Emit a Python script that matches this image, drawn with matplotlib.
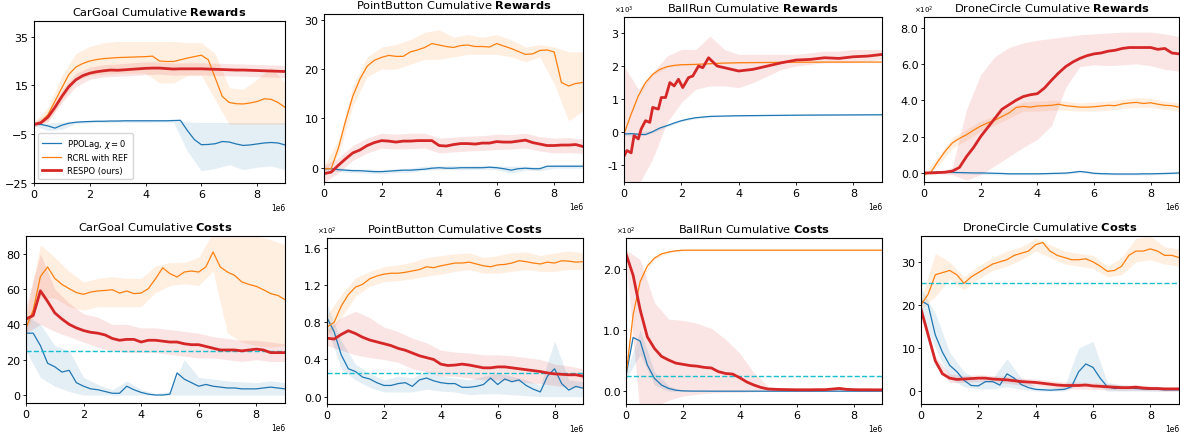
import numpy as np
import matplotlib.pyplot as plt
from matplotlib.ticker import FuncFormatter

# x grids the curves were read on (env steps)
steps = np.arange(0, 9.01, 0.25) * 1e6
band_steps = np.arange(0, 9.01, 0.5) * 1e6

labels = ["PPOLag, $\\chi=0$", "RCRL with REF", "RESPO (ours)"]

# ---------------- CarGoal rewards
cg_rew_blue = [-1.0, -1.0, -1.6, -2.5, -1.3, -0.5, -0.1, 0.1, 0.2, 0.3, 0.3, 0.4,
               0.4, 0.5, 0.5, 0.5, 0.5, 0.5, 0.5, 0.5, 0.6, 0.7, -3.5, -7.2,
               -9.3, -9.2, -8.9, -8.0, -8.2, -9.0, -9.6, -9.4, -9.0, -8.6, -8.4, -8.6, -9.4]
cg_rew_orange = [-1.0, 0.0, 3.0, 8.5, 14.0, 19.5, 22.5, 24.0, 25.0, 25.6, 26.0, 26.2,
                 26.4, 26.5, 26.6, 26.7, 26.8, 27.0, 25.0, 24.8, 24.8, 25.5, 26.2, 26.8,
                 27.4, 25.5, 18.0, 10.5, 8.0, 7.5, 7.4, 7.8, 8.4, 9.5, 9.3, 8.0, 6.0]
cg_rew_red = [-1.0, -0.3, 2.0, 6.0, 10.5, 14.5, 17.3, 19.0, 20.0, 20.6, 21.0, 21.3,
              21.2, 21.4, 21.6, 21.8, 22.0, 22.1, 22.1, 21.9, 21.7, 21.8, 21.8, 21.8,
              21.8, 21.7, 21.6, 21.5, 21.4, 21.3, 21.3, 21.2, 21.1, 21.0, 20.9, 20.8, 20.7]
cg_rew_blue_lo = [-1.5, -3.5, -3.0, -0.6, -0.3, -0.2, -0.1, -0.1, -0.1, 0.0, 0.0, -12, -20, -19, -17.5, -19.5, -18.5, -18, -19.5]
cg_rew_blue_hi = [-0.5, -0.5, 0.0, 0.4, 0.7, 0.8, 0.9, 0.9, 1.0, 1.0, 1.1, 0.0, -0.2, -0.2, -0.2, -0.2, -0.2, -0.2, -0.2]
cg_rew_orange_lo = [-2.0, 0.0, 9.0, 17.0, 19.0, 19.5, 20.0, 20.0, 20.0, 16.0, 16.0, 19.0, 19.0, 9.0, -1.0, -1.0, -1.0, -1.0, -1.0]
cg_rew_orange_hi = [0.0, 6.0, 19.0, 28.0, 31.0, 32.5, 33.0, 33.0, 33.0, 33.0, 33.0, 32.5, 32.5, 28.0, 14.0, 13.5, 17.5, 22.5, 16.0]
cg_rew_red_lo = [-2.0, 0.5, 8.0, 14.5, 17.5, 18.5, 18.8, 19.0, 19.4, 19.6, 19.2, 19.3, 19.3, 19.1, 18.9, 18.8, 18.6, 18.4, 18.2]
cg_rew_red_hi = [0.0, 3.5, 13.0, 20.0, 22.5, 23.5, 23.8, 24.3, 24.6, 24.6, 24.2, 24.3, 24.3, 24.1, 23.9, 23.8, 23.6, 23.4, 23.2]

# ---------------- PointButton rewards
pb_rew_blue = [-0.2, -0.2, -0.4, -0.5, -0.6, -0.6, -0.7, -0.8, -0.8, -0.7, -0.6, -0.5,
               -0.5, -0.4, -0.3, -0.1, 0.0, -0.1, -0.1, 0.0, 0.0, 0.0, 0.0, 0.1,
               0.0, -0.2, -0.5, -0.2, -0.1, -0.2, -0.2, 0.3, 0.3, 0.3, 0.3, 0.3, 0.3]
pb_rew_orange = [-0.2, -0.2, 4.0, 9.5, 14.5, 18.0, 20.6, 21.8, 22.4, 22.8, 22.6, 22.6,
                 23.5, 23.9, 24.4, 25.2, 24.9, 24.6, 24.4, 24.8, 24.9, 24.6, 24.6, 24.5,
                 25.2, 24.7, 24.2, 23.6, 23.0, 23.1, 23.8, 23.9, 23.5, 17.3, 16.6, 17.1, 17.3]
pb_rew_red = [-1.2, -0.9, 0.5, 1.8, 3.0, 3.6, 4.5, 5.1, 5.5, 5.4, 5.2, 5.4,
              5.4, 5.5, 5.5, 5.5, 4.5, 4.4, 4.7, 4.9, 4.9, 4.8, 5.0, 5.0,
              5.3, 5.2, 5.2, 5.4, 5.6, 5.1, 4.8, 4.5, 4.5, 4.6, 4.6, 4.7, 4.3]
pb_rew_blue_lo = [-0.6, -0.8, -1.0, -1.1, -1.2, -1.0, -0.9, -0.5, -0.4, -0.4, -0.4, -0.3, -0.4, -1.1, -0.5, -0.6, -0.1, -0.1, -0.1]
pb_rew_blue_hi = [0.2, 0.0, -0.2, -0.3, -0.4, -0.2, -0.1, 0.3, 0.4, 0.4, 0.4, 0.5, 0.4, 0.3, 0.3, 0.2, 0.7, 0.7, 0.7]
pb_rew_orange_lo = [-1.0, 2.5, 12.5, 18.5, 20.0, 20.0, 21.0, 22.0, 22.0, 22.5, 23.0, 23.0, 23.0, 22.5, 21.5, 22.5, 17.0, 9.5, 11.5]
pb_rew_orange_hi = [0.5, 5.5, 16.5, 22.5, 24.5, 25.0, 26.0, 27.5, 28.0, 26.5, 27.0, 26.5, 27.0, 26.0, 24.5, 25.0, 24.5, 23.5, 23.5]
pb_rew_red_lo = [-3.0, -1.0, 1.5, 3.0, 4.0, 3.8, 3.9, 4.0, 3.0, 3.2, 3.4, 3.5, 3.7, 3.8, 4.0, 3.4, 3.0, 3.1, 2.9]
pb_rew_red_hi = [0.5, 2.0, 4.5, 6.0, 7.0, 6.8, 7.0, 7.0, 6.0, 6.2, 6.4, 6.5, 6.8, 6.7, 7.0, 6.3, 6.0, 6.1, 5.8]

# ---------------- BallRun rewards
br_rew_blue = [-50, -40, -60, -70, 20, 130, 200, 280, 350, 400, 440, 460,
               480, 485, 490, 495, 500, 502, 504, 506, 508, 510, 512, 514,
               516, 518, 519, 520, 521, 522, 523, 524, 525, 526, 527, 528, 530]
br_rew_orange = [-50, 550, 1100, 1500, 1750, 1900, 1980, 2020, 2040, 2045, 2050, 2060,
                 2070, 2080, 2090, 2095, 2100, 2102, 2104, 2106, 2108, 2110, 2112, 2114,
                 2115, 2116, 2117, 2118, 2119, 2120, 2120, 2120, 2120, 2120, 2120, 2120, 2120]
br_rew_red_x = [0, 0.1, 0.25, 0.35, 0.5, 0.6, 0.75, 0.9, 1.0, 1.2, 1.3, 1.45, 1.6, 1.75, 1.9, 2.05,
                2.25, 2.4, 2.6, 2.75, 2.95, 3.25, 3.5, 4.0, 4.5, 5.0, 5.5, 6.0, 6.5, 7.0, 7.5, 8.0, 8.5, 9.0]
br_rew_red = [-720, -550, -620, -100, -200, 100, 350, 300, 750, 700, 1050, 1050, 1500, 1400, 1600, 1350,
              1650, 1700, 2000, 1950, 2250, 2000, 1950, 1850, 1900, 2000, 2100, 2180, 2200, 2250, 2230, 2280, 2300, 2350]
br_rew_blue_lo = [-100, -120, -20, 170, 320, 410, 460, 475, 485, 490, 495, 500, 505, 508, 510, 512, 514, 516, 518]
br_rew_blue_hi = [0, 0, 60, 230, 380, 470, 500, 515, 525, 530, 535, 540, 545, 548, 550, 552, 554, 556, 558]
br_rew_orange_lo = [-60, 1080, 1720, 1960, 2020, 2030, 2050, 2070, 2080, 2085, 2090, 2095, 2100, 2100, 2105, 2105, 2105, 2105, 2105]
br_rew_orange_hi = [-40, 1120, 1780, 2000, 2060, 2070, 2090, 2110, 2120, 2125, 2125, 2130, 2130, 2135, 2135, 2135, 2135, 2135, 2135]
br_rew_red_lo = [-2000, -1600, -800, 300, 900, 1300, 1400, 1400, 1350, 1500, 1700, 1900, 2000, 2050, 2100, 2100, 2100, 2150, 2200]
br_rew_red_hi = [2000, 1300, 1800, 2300, 2500, 2500, 2900, 2500, 2350, 2350, 2350, 2350, 2350, 2400, 2450, 2450, 2500, 2500, 2500]

# ---------------- DroneCircle rewards
dc_rew_blue = [0, 3, 5, 4, 3, 2, 1, 0, 0, -1, -2, -3,
               -5, -5, -5, -5, -5, -4, -3, -2, -1, 3, 8, 4,
               -2, -4, -5, -6, -6, -6, -6, -5, -5, -4, -3, -2, 0]
dc_rew_orange = [-10, 5, 65, 120, 165, 190, 210, 235, 258, 275, 290, 310,
                 330, 360, 366, 362, 368, 370, 372, 378, 370, 366, 362, 362,
                 364, 368, 372, 370, 380, 385, 388, 382, 386, 378, 372, 370, 362]
dc_rew_red = [0, 0, 2, 4, 10, 30, 90, 140, 200, 250, 300, 350,
              375, 400, 420, 430, 436, 467, 510, 550, 585, 610, 630, 645,
              655, 660, 670, 675, 685, 690, 690, 690, 690, 680, 685, 660, 655]
dc_rew_blue_lo = [-6, -1, -3, -6, -8, -11, -11, -11, -11, -9, -7, 2, -8, -11, -12, -12, -11, -9, -6]
dc_rew_blue_hi = [6, 11, 9, 6, 4, 1, 1, 1, 1, 3, 5, 14, 4, 1, 0, 0, 1, 3, 6]
dc_rew_orange_lo = [-20, 40, 135, 180, 230, 265, 300, 340, 340, 345, 345, 340, 340, 345, 355, 360, 360, 350, 340]
dc_rew_orange_hi = [0, 90, 195, 240, 285, 315, 360, 390, 395, 400, 395, 385, 390, 395, 405, 415, 410, 395, 385]
dc_rew_red_lo = [-5, -5, -10, -40, -10, 40, 90, 140, 185, 260, 470, 585, 595, 590, 595, 600, 590, 570, 560]
dc_rew_red_hi = [5, 5, 30, 350, 540, 640, 690, 715, 730, 740, 750, 760, 765, 770, 775, 775, 775, 765, 750]

# ---------------- CarGoal costs
cg_cost_blue = [35, 35, 28, 18, 16, 13, 14, 7, 5, 3.5, 3, 2,
                1, 1, 5, 3, 1.5, 0.5, 0, 0, 0.5, 12.5, 9, 7,
                5, 6, 5, 4.5, 4, 4, 3.5, 3.5, 3.5, 4, 4.5, 4, 3.5]
cg_cost_orange = [38, 48, 67, 72.5, 66, 62.6, 60.2, 58, 57, 58.3, 58.9, 59.2,
                  59.6, 57.7, 58.9, 57.4, 57.7, 60.2, 65.8, 72, 68.7, 66.8, 69.6, 70.2,
                  69.6, 72.5, 81, 72.5, 69.6, 67.7, 64, 62.6, 61.5, 59.6, 57.4, 56.4, 54]
cg_cost_red = [43, 45, 59, 53, 46.5, 43, 40, 38, 36.5, 35.5, 35, 34,
               32, 31, 31.5, 31.5, 30, 31, 31, 30.5, 30, 30, 29, 28.5,
               28.5, 27.5, 26.5, 25.5, 25.5, 25.5, 25, 25.5, 26, 25.5, 24, 24, 24]
cg_cost_blue_lo = [25, 10, 5, 2, 0, 0, 0, 0, 0, 0, 0, 0, 0, 0, 0, 0, 0, 0, 0]
cg_cost_blue_hi = [45, 40, 28, 25, 10, 6, 3, 8, 3, 1, 2, 20, 10, 9, 8, 7.5, 7, 8, 7]
cg_cost_orange_lo = [35, 55, 55, 50, 48, 50, 50, 50, 50, 58, 62, 63, 62, 70, 35, 30, 28, 27, 28]
cg_cost_orange_hi = [45, 85, 78, 70, 64, 66, 67, 66, 66, 73, 75, 75, 78, 92, 92, 92, 90, 88, 85]
cg_cost_red_lo = [35, 40, 36, 33, 30, 27, 25, 24, 24, 24, 23, 22, 21, 21, 20, 19, 20, 19, 19]
cg_cost_red_hi = [50, 80, 60, 52, 46, 44, 40, 40, 38, 38, 37, 36, 35, 33, 32, 31, 31, 30, 29]

# ---------------- PointButton costs
pb_cost_blue = [85, 70, 45, 30, 27, 21, 19, 15, 12, 12, 14, 15,
                11, 18, 20, 17, 15, 14, 14, 10, 10, 11, 13, 20,
                13, 19, 16, 18, 12, 8, 5, 22, 30, 14, 7, 11, 9]
pb_cost_orange = [75, 80, 97.5, 110, 118, 121, 127, 130, 132, 133, 133, 134,
                  135.5, 137, 140, 139, 141, 142.5, 144, 144, 145, 143, 141, 140,
                  142, 142.5, 144, 146.5, 145.5, 144, 143, 145, 144, 146.5, 146, 145, 145.5]
pb_cost_red = [63, 62, 67, 71, 68, 64, 61, 59, 57, 55, 52, 50,
               47, 44, 42, 40, 35, 33.5, 34, 35, 34, 32.5, 31, 31,
               32, 32, 31, 30, 29, 28, 27, 25.5, 24.5, 24, 23.5, 23.5, 22]
pb_cost_blue_lo = [75, 30, 18, 10, 5, 5, 5, 8, 6, 5, 2, 3, 3, 2, 1, 0, 0, 0, 0]
pb_cost_blue_hi = [100, 60, 35, 25, 18, 22, 20, 28, 22, 20, 18, 22, 25, 22, 18, 12, 60, 18, 16]
pb_cost_orange_lo = [65, 85, 108, 119, 124, 125, 127, 130, 132, 135, 137, 133, 133, 135, 137, 135, 135, 137, 137]
pb_cost_orange_hi = [88, 110, 128, 135, 140, 142, 145, 150, 152, 154, 155, 150, 152, 155, 156, 152, 155, 157, 155]
pb_cost_red_lo = [55, 50, 45, 42, 40, 37, 30, 27, 22, 22, 20, 18, 18, 17, 15, 14, 12, 10, 10]
pb_cost_red_hi = [72, 85, 92, 85, 75, 70, 63, 58, 50, 48, 47, 45, 45, 44, 42, 40, 35, 33, 30]

# ---------------- BallRun costs
br_cost_blue = [25, 88, 82, 43, 21, 10, 4.5, 1.6, 0.5, 0.2, 0.1, 0.1,
                0, 0, 0, 0, 0, 0, 0, 0, 0, 0, 0, 0,
                0, 0, 0, 0, 0, 0, 0, 0, 0, 0, 0, 0, 0]
br_cost_orange = [25, 125, 180, 205, 218, 225, 228, 230, 231, 231, 231, 231,
                  231, 231, 231, 231, 231, 231, 231, 231, 231, 231, 231, 231,
                  231, 231, 231, 231, 231, 231, 231, 231, 231, 231, 231, 231, 231]
br_cost_red = [225, 190, 133, 89, 70, 57, 51, 46, 44, 42, 41, 39,
               38, 32, 29, 28, 22, 15, 10, 6, 3.5, 3, 2.7, 2.5,
               2.3, 2.3, 2.3, 2.5, 2.5, 3.5, 4.5, 3, 2.5, 2.3, 2.3, 2.2, 2.2]
br_cost_blue_lo = [20, 60, 10, 0, 0, 0, 0, 0, 0, 0, 0, 0, 0, 0, 0, 0, 0, 0, 0]
br_cost_blue_hi = [30, 100, 32, 9, 1, 0.5, 0.5, 0.5, 0.5, 0.5, 0.5, 0.5, 0.5, 0.5, 0.5, 0.5, 0.5, 0.5, 0.5]
br_cost_orange_lo = [24, 178, 216, 227, 230, 230, 230, 230, 230, 230, 230, 230, 230, 230, 230, 230, 230, 230, 230]
br_cost_orange_hi = [26, 182, 220, 229, 232, 232, 232, 232, 232, 232, 232, 232, 232, 232, 232, 232, 232, 232, 232]
br_cost_red_lo = [215, -40, -25, -15, -8, -5, -3, -2, -2, -1, 0, 0, 0, 0, 0, 0, 0, 0, 0]
br_cost_red_hi = [232, 215, 145, 118, 116, 111, 103, 85, 62, 30, 8, 5, 4.5, 4.5, 5, 7, 5, 4.5, 4.5]

# ---------------- DroneCircle costs
dc_cost_blue = [21, 20, 13, 9, 6, 4.5, 2.5, 1.3, 1.2, 2.2, 2.2, 1.4,
                4.0, 3.0, 1.5, 0.8, 0.4, 0.3, 0.2, 0.3, 0.4, 1.0, 4.5, 6.3,
                5.5, 3.0, 1.0, 0.6, 0.7, 0.7, 0.6, 0.5, 0.4, 0.4, 0.3, 0.3, 0.3]
dc_cost_orange = [20, 22.5, 27, 27.5, 28, 27, 25, 26.5, 27.5, 28.5, 29.5, 30,
                  30.5, 31.5, 32, 32.5, 34, 34.5, 32.5, 31.5, 31, 30.5, 30.5, 30.7,
                  30, 29, 27.8, 28, 29, 31.5, 32.5, 32.5, 33, 32.5, 31.5, 31.5, 31]
dc_cost_red = [19, 13, 7, 4, 3, 2.7, 2.8, 2.9, 3.0, 3.0, 2.8, 2.7,
               2.6, 2.4, 2.2, 2.1, 2.0, 1.8, 1.6, 1.4, 1.3, 1.3, 1.3, 1.4,
               1.2, 1.1, 1.0, 0.9, 0.8, 0.8, 0.9, 0.7, 0.6, 0.6, 0.5, 0.5, 0.5]
dc_cost_blue_lo = [18, 10, 3, 1, 0.5, 0.5, 1, 0.5, 0, 0, 0, 1.5, 2, 0, 0, 0, 0, 0, 0]
dc_cost_blue_hi = [24, 18, 9, 4.5, 2.5, 3, 7.5, 3, 1, 0.8, 1, 10, 11.5, 2, 1.5, 1.2, 1, 0.8, 0.8]
dc_cost_orange_lo = [19, 22, 26, 23.5, 26, 28, 29, 30.5, 32.5, 31, 29.5, 29, 28.5, 26.5, 27, 30, 30.5, 29.5, 29]
dc_cost_orange_hi = [21, 32, 30, 26.5, 29, 31, 32.5, 33.5, 35.5, 34, 32.5, 32, 31.5, 29, 31, 35.5, 36, 33.5, 33]
dc_cost_red_lo = [18, 6, 2, 2, 2.2, 2, 1.8, 1.4, 1.2, 0.8, 0.5, 0.5, 0.4, 0.3, 0.2, 0.2, 0.1, 0.0, 0.0]
dc_cost_red_hi = [20, 8, 4, 3.6, 3.8, 3.6, 3.4, 3.0, 2.8, 2.4, 2.1, 2.1, 2.0, 1.7, 1.4, 1.5, 1.2, 1.0, 1.0]

cost_limit = 25

BLUE, ORANGE, RED, CYAN = "#1f77b4", "#ff7f0e", "#d62728", "#17becf"

W, H = 1180, 435
fig = plt.figure(figsize=(W / 100, H / 100), dpi=100)


def px_axes(l, r, t, b):
    return fig.add_axes([l / W, 1 - b / H, (r - l) / W, (b - t) / H])


def series(ax, x, y, lo, hi, color, lw, label):
    ax.fill_between(band_steps, lo, hi, color=color, alpha=0.12, lw=0)
    ax.plot(x, y, color=color, lw=lw, label=label)


# (env, kind, rect in px, blue, orange, red, red_x, ylim, yticks, power of ten)
panels = [
    ("CarGoal", "Rewards", (34, 285, 22, 184),
     (cg_rew_blue, cg_rew_blue_lo, cg_rew_blue_hi), (cg_rew_orange, cg_rew_orange_lo, cg_rew_orange_hi),
     (cg_rew_red, cg_rew_red_lo, cg_rew_red_hi), None, (-25, 41.4), [-25, -5, 15, 35], None),
    ("PointButton", "Rewards", (324, 583, 15, 183),
     (pb_rew_blue, pb_rew_blue_lo, pb_rew_blue_hi), (pb_rew_orange, pb_rew_orange_lo, pb_rew_orange_hi),
     (pb_rew_red, pb_rew_red_lo, pb_rew_red_hi), None, (-2.9, 31.2), [0, 10, 20, 30], None),
    ("BallRun", "Rewards", (624, 882, 18, 183),
     (br_rew_blue, br_rew_blue_lo, br_rew_blue_hi), (br_rew_orange, br_rew_orange_lo, br_rew_orange_hi),
     (br_rew_red, br_rew_red_lo, br_rew_red_hi), br_rew_red_x, (-1500, 3480), [-1000, 0, 1000, 2000, 3000], 3),
    ("DroneCircle", "Rewards", (924, 1179, 18, 183),
     (dc_rew_blue, dc_rew_blue_lo, dc_rew_blue_hi), (dc_rew_orange, dc_rew_orange_lo, dc_rew_orange_hi),
     (dc_rew_red, dc_rew_red_lo, dc_rew_red_hi), None, (-50, 858), [0, 200, 400, 600, 800], 2),
    ("CarGoal", "Costs", (26, 285, 237, 404),
     (cg_cost_blue, cg_cost_blue_lo, cg_cost_blue_hi), (cg_cost_orange, cg_cost_orange_lo, cg_cost_orange_hi),
     (cg_cost_red, cg_cost_red_lo, cg_cost_red_hi), None, (-4.5, 90), [0, 20, 40, 60, 80], None),
    ("PointButton", "Costs", (327, 583, 239, 405),
     (pb_cost_blue, pb_cost_blue_lo, pb_cost_blue_hi), (pb_cost_orange, pb_cost_orange_lo, pb_cost_orange_hi),
     (pb_cost_red, pb_cost_red_lo, pb_cost_red_hi), None, (-8, 171), [0, 40, 80, 120, 160], 2),
    ("BallRun", "Costs", (626, 882, 239, 405),
     (br_cost_blue, br_cost_blue_lo, br_cost_blue_hi), (br_cost_orange, br_cost_orange_lo, br_cost_orange_hi),
     (br_cost_red, br_cost_red_lo, br_cost_red_hi), None, (-21, 251), [0, 100, 200], 2),
    ("DroneCircle", "Costs", (921, 1179, 237, 405),
     (dc_cost_blue, dc_cost_blue_lo, dc_cost_blue_hi), (dc_cost_orange, dc_cost_orange_lo, dc_cost_orange_hi),
     (dc_cost_red, dc_cost_red_lo, dc_cost_red_hi), None, (-3, 36), [0, 10, 20, 30], None),
]

for i, (env, kind, rect, blue, orange, red, red_x, ylim, yticks, scale) in enumerate(panels):
    ax = px_axes(*rect)
    series(ax, steps, blue[0], blue[1], blue[2], BLUE, 0.9, labels[0])
    series(ax, steps, orange[0], orange[1], orange[2], ORANGE, 0.9, labels[1])
    if kind == "Costs":
        ax.axhline(cost_limit, color=CYAN, ls="--", lw=1.0)
    rx = steps if red_x is None else np.array(red_x) * 1e6
    series(ax, rx, red[0], red[1], red[2], RED, 2.0, labels[2])

    ax.set_title(env + " Cumulative $\\bf{" + kind + "}$", fontsize=8.2, pad=4)
    ax.set_xlim(0, 9e6)
    ax.set_ylim(*ylim)
    ax.set_yticks(yticks)
    ax.set_xticks([0, 2e6, 4e6, 6e6, 8e6])
    ax.tick_params(labelsize=8, length=2.5, width=0.6, pad=1.5)
    ax.xaxis.get_offset_text().set_fontsize(5.5)
    if scale is not None:
        fmt = "%d" if scale == 3 else "%.1f"
        ax.yaxis.set_major_formatter(FuncFormatter(lambda v, p, s=scale, f=fmt: f % (v / 10 ** s)))
        ax.text(-0.04, 1.015, "$\\times10^{%d}$" % scale, transform=ax.transAxes,
                fontsize=5, ha="left", va="bottom")
    if i == 0:
        ax.legend(loc="lower left", fontsize=6, handlelength=2.2, borderpad=0.5, labelspacing=0.4)

fig.savefig("out.png", dpi=100)
